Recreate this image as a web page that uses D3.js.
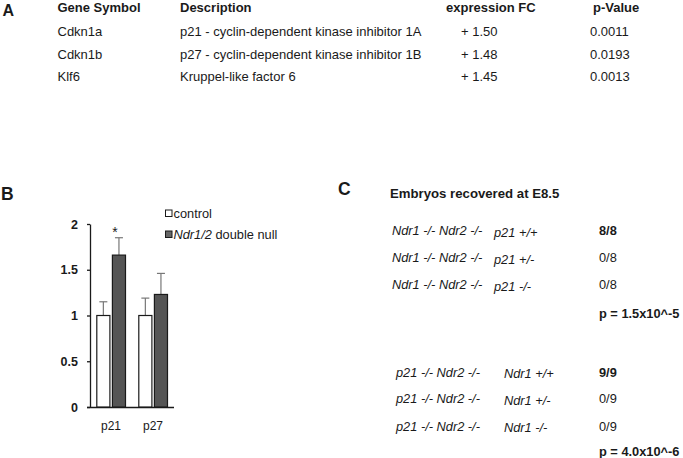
<!DOCTYPE html>
<html><head><meta charset="utf-8">
<script src="https://cdn.jsdelivr.net/npm/d3@7"></script>
<style>
html,body{margin:0;padding:0;background:#fff;}
svg{display:block;font-family:"Liberation Sans",Arial,sans-serif;}
</style></head>
<body>
<svg id="c" width="683" height="458"></svg>
<script>
// ---- Panel A table data ----
const tableHeaders = ["Gene Symbol", "Description", "expression FC", "p-Value"];
const geneSymbols = ["Cdkn1a", "Cdkn1b", "Klf6"];
const descriptions = ["p21 - cyclin-dependent kinase inhibitor 1A", "p27 - cyclin-dependent kinase inhibitor 1B", "Kruppel-like factor 6"];
const expressionFC = [1.50, 1.48, 1.45];
const pValues = ["0.0011", "0.0193", "0.0013"];

// ---- Panel B bar chart data ----
const categories = ["p21", "p27"];
const seriesNames = ["control", "Ndr1/2 double null"];
const controlMeans = [1.0, 1.0];
const controlErrors = [0.15, 0.19];
const nullMeans = [1.66, 1.23];
const nullErrors = [0.19, 0.23];
const yTicks = [0, 0.5, 1, 1.5, 2];
const significant = [true, false];

// ---- Panel C data ----
const panelCTitle = "Embryos recovered at E8.5";
const group1Background = "Ndr1 -/- Ndr2 -/-";
const group1Genotypes = ["p21 +/+", "p21 +/-", "p21 -/-"];
const group1Counts = ["8/8", "0/8", "0/8"];
const group1P = "p = 1.5x10^-5";
const group2Background = "p21 -/- Ndr2 -/-";
const group2Genotypes = ["Ndr1 +/+", "Ndr1 +/-", "Ndr1 -/-"];
const group2Counts = ["9/9", "0/9", "0/9"];
const group2P = "p = 4.0x10^-6";

const svg = d3.select("#c");
const ink = "#1a1a1a";

// ===== Panel A =====
svg.append("text").attr("x", 2.5).attr("y", 15.5).attr("font-size", 16).attr("font-weight", "bold").attr("fill", ink).text("A");
const colX = [57.5, 180, 446, 593];
const gA = svg.append("g").attr("font-size", 13).attr("fill", ink);
gA.selectAll("text.h").data(tableHeaders).join("text").attr("class", "h")
  .attr("x", (d, i) => colX[i]).attr("y", 12).attr("font-weight", "bold").text(d => d);
const rowY = [35.5, 58.5, 81];
gA.selectAll("text.g").data(geneSymbols).join("text").attr("class", "g")
  .attr("x", colX[0]).attr("y", (d, i) => rowY[i]).text(d => d);
gA.selectAll("text.d").data(descriptions).join("text").attr("class", "d")
  .attr("x", colX[1]).attr("y", (d, i) => rowY[i]).text(d => d);
gA.selectAll("text.f").data(expressionFC).join("text").attr("class", "f")
  .attr("x", 461).attr("y", (d, i) => rowY[i]).text(d => "+ " + d.toFixed(2));
gA.selectAll("text.p").data(pValues).join("text").attr("class", "p")
  .attr("x", 590).attr("y", (d, i) => rowY[i]).text(d => d);

// ===== Panel B =====
svg.append("text").attr("x", 1).attr("y", 200).attr("font-size", 17.5).attr("font-weight", "bold").attr("fill", ink).text("B");

const y = d3.scaleLinear().domain([0, 2]).range([407, 224]);
const x0 = d3.scaleBand().domain(categories).range([90, 174]);
const x1 = d3.scaleBand().domain(seriesNames).range([6.8, 35.5]).paddingInner(0.16);
const fills = { "control": "#ffffff", "Ndr1/2 double null": "#555555" };

const yAxis = d3.axisLeft(y).tickValues(yTicks).tickFormat(d => String(d)).tickSize(3).tickSizeOuter(0).tickPadding(9);
const gy = svg.append("g").attr("transform", "translate(90,0)").call(yAxis);
gy.select(".domain").attr("stroke", ink).attr("stroke-width", 1.3);
gy.selectAll(".tick line").attr("stroke", ink).attr("stroke-width", 1.3);
gy.selectAll(".tick text").attr("font-size", 12.5).attr("font-weight", "bold").attr("fill", ink)
  .attr("font-family", "Liberation Sans, Arial, sans-serif");

const xAxis = d3.axisBottom(x0).tickSize(0).tickSizeOuter(0).tickPadding(10);
const gx = svg.append("g").attr("transform", `translate(0,${y(0)})`).call(xAxis);
gx.select(".domain").attr("stroke", ink).attr("stroke-width", 1.3).attr("d", `M87,0.5H174`);
gx.selectAll(".tick text").attr("font-size", 12).attr("fill", ink).attr("dy", "1.1em")
  .attr("font-family", "Liberation Sans, Arial, sans-serif");

const barData = [];
categories.forEach((c, i) => {
  barData.push({ cat: c, s: seriesNames[0], v: controlMeans[i], e: controlErrors[i] });
  barData.push({ cat: c, s: seriesNames[1], v: nullMeans[i], e: nullErrors[i] });
});

const bars = svg.append("g");
const eg = bars.selectAll("g.err").data(barData).join("g").attr("class", "err");
eg.append("line")
  .attr("x1", d => x0(d.cat) + x1(d.s) + x1.bandwidth() / 2)
  .attr("x2", d => x0(d.cat) + x1(d.s) + x1.bandwidth() / 2)
  .attr("y1", d => y(d.v)).attr("y2", d => y(d.v + d.e))
  .attr("stroke", "#777").attr("stroke-width", 1.2);
eg.append("line")
  .attr("x1", d => x0(d.cat) + x1(d.s) + x1.bandwidth() / 2 - 4)
  .attr("x2", d => x0(d.cat) + x1(d.s) + x1.bandwidth() / 2 + 4)
  .attr("y1", d => y(d.v + d.e)).attr("y2", d => y(d.v + d.e))
  .attr("stroke", "#777").attr("stroke-width", 1.2);

bars.selectAll("rect").data(barData).join("rect")
  .attr("x", d => x0(d.cat) + x1(d.s))
  .attr("width", x1.bandwidth())
  .attr("y", d => y(d.v))
  .attr("height", d => y(0) - y(d.v))
  .attr("fill", d => fills[d.s])
  .attr("stroke", ink).attr("stroke-width", 1.2);

svg.append("g").selectAll("text").data(categories.filter((c, i) => significant[i])).join("text")
  .attr("x", c => x0(c) + x1(seriesNames[1]) + x1.bandwidth() / 2 - 4)
  .attr("y", c => y(nullMeans[categories.indexOf(c)] + nullErrors[categories.indexOf(c)]) - 1)
  .attr("text-anchor", "middle").attr("font-size", 14).attr("fill", ink).text("*");

const lg = svg.append("g");
const legY = [210, 231];
seriesNames.forEach((s, i) => {
  lg.append("rect").attr("x", 165.5).attr("y", legY[i]).attr("width", 6.5).attr("height", 6.5)
    .attr("fill", i === 0 ? "#fff" : "#666").attr("stroke", ink).attr("stroke-width", 1);
  const t = lg.append("text").attr("x", 173.5).attr("y", legY[i] + 7.5).attr("font-size", 12.8).attr("fill", ink);
  if (i === 0) t.text(s);
  else {
    const parts = s.split(" ");
    t.append("tspan").attr("font-style", "italic").text(parts[0]);
    t.append("tspan").text(" " + parts.slice(1).join(" "));
  }
});

// ===== Panel C =====
svg.append("text").attr("x", 338).attr("y", 195).attr("font-size", 17.5).attr("font-weight", "bold").attr("fill", ink).text("C");
const gC = svg.append("g").attr("font-size", 12.8).attr("fill", ink);
gC.append("text").attr("x", 390).attr("y", 198).attr("font-weight", "bold").attr("font-size", 13.2).text(panelCTitle);

function drawGroup(bg, genos, counts, pTxt, rows, bgX, genoX) {
  gC.selectAll(null).data(genos).join("text")
    .attr("x", bgX).attr("y", (d, i) => rows[i]).attr("font-style", "italic").text(bg);
  gC.selectAll(null).data(genos).join("text")
    .attr("x", genoX).attr("y", (d, i) => rows[i] + 1.5).attr("font-style", "italic").text(d => d);
  gC.selectAll(null).data(counts).join("text")
    .attr("x", 599).attr("y", (d, i) => rows[i])
    .attr("font-weight", (d, i) => i === 0 ? "bold" : "normal").text(d => d);
  gC.append("text").attr("x", 599).attr("y", rows[3]).attr("font-weight", "bold").text(pTxt);
}
drawGroup(group1Background, group1Genotypes, group1Counts, group1P, [235, 262, 289, 317.5], 392, 494);
drawGroup(group2Background, group2Genotypes, group2Counts, group2P, [376.5, 403, 430.5, 456], 396, 504);
</script>
</body></html>
